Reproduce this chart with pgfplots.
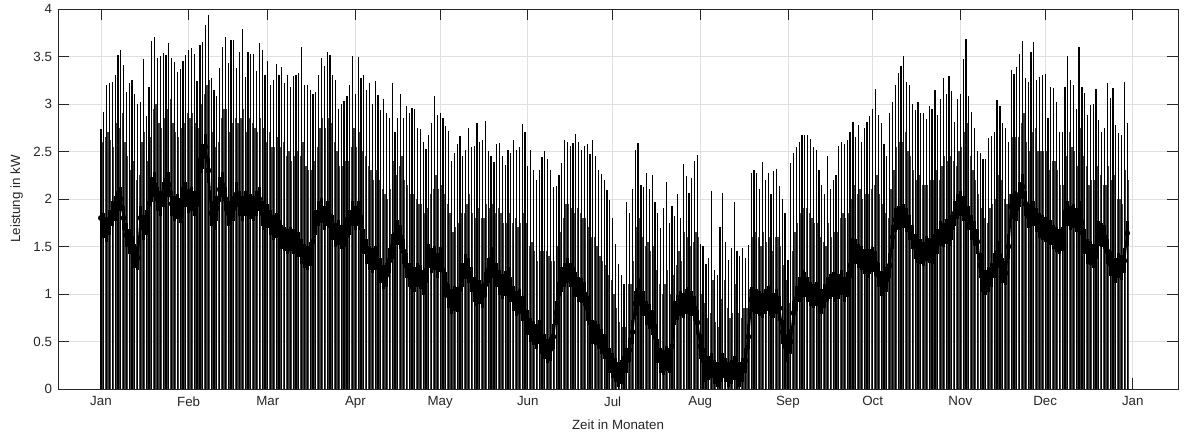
\documentclass[border=0pt]{standalone}
\usepackage{pgfplots}
\usepackage{pgfplotstable}
\pgfplotsset{compat=1.18}
\usepackage{fontspec}
\setmainfont{Liberation Sans}
\definecolor{axgray}{RGB}{38,38,38}
\definecolor{gridgray}{RGB}{223,223,223}

% day of year, daily peak, level of the dense band, second daily peak (kW)
\pgfplotstableread{
d pk md up
0 2.74 1.80 2.60
1 2.92 1.72 2.65
2 3.20 1.68 2.70
3 3.22 1.75 2.62
4 3.23 1.85 2.55
5 3.30 1.90 2.80
6 3.52 1.95 2.75
7 3.57 2.00 2.90
8 3.41 1.80 2.60
9 3.13 1.62 2.45
10 3.22 1.55 2.30
11 3.25 1.48 2.40
12 3.11 1.40 2.20
13 3.00 1.38 2.25
14 3.02 1.80 2.60
15 3.47 1.70 2.70
16 2.87 1.75 2.40
17 3.18 1.95 2.65
18 3.66 2.10 2.95
19 3.71 2.15 3.00
20 3.48 2.00 2.80
21 3.50 1.95 2.75
22 3.54 2.05 2.85
23 3.52 2.20 2.95
24 3.64 2.15 3.05
25 3.48 1.95 2.80
26 3.44 1.90 2.70
27 3.34 1.92 2.65
28 3.37 1.88 2.75
29 3.45 2.00 2.80
30 3.52 2.05 2.90
31 3.57 1.98 2.85
32 3.59 2.00 2.90
33 3.53 1.95 2.80
34 3.24 2.05 2.75
35 3.62 2.30 3.00
36 3.65 2.45 3.10
37 3.83 2.55 3.20
38 3.94 2.30 3.25
39 3.27 1.85 2.70
40 3.15 1.80 2.55
41 3.08 1.90 2.60
42 3.38 2.10 2.85
43 3.60 2.15 2.95
44 3.71 2.00 2.95
45 3.43 1.85 2.70
46 3.67 1.82 2.80
47 3.67 1.90 2.85
48 3.38 2.05 2.80
49 3.55 1.95 2.85
50 3.79 1.90 2.95
51 3.28 1.95 2.70
52 3.55 2.00 2.85
53 3.53 1.92 2.80
54 3.53 1.90 2.75
55 3.35 1.95 2.70
56 3.64 2.00 2.85
57 3.57 1.85 2.75
58 3.30 1.80 2.60
59 3.45 1.82 2.70
60 3.20 1.75 2.55
61 3.25 1.70 2.55
62 3.42 1.72 2.65
63 3.30 1.65 2.55
64 3.39 1.60 2.60
65 3.22 1.58 2.45
66 3.30 1.55 2.50
67 3.18 1.58 2.40
68 3.29 1.55 2.45
69 3.30 1.60 2.50
70 3.33 1.52 2.45
71 3.60 1.45 2.60
72 3.20 1.40 2.35
73 3.20 1.38 2.30
74 3.15 1.42 2.30
75 3.10 1.55 2.40
76 3.13 1.75 2.55
77 3.30 1.85 2.75
78 3.48 1.88 2.85
79 3.40 1.80 2.75
80 3.55 1.85 2.85
81 3.52 1.82 2.80
82 3.31 1.70 2.60
83 3.25 1.62 2.50
84 2.95 1.65 2.35
85 3.00 1.60 2.35
86 3.03 1.68 2.40
87 3.08 1.62 2.40
88 3.20 1.75 2.55
89 3.50 1.85 2.75
90 3.10 1.80 2.55
91 3.49 1.85 2.70
92 3.27 1.70 2.50
93 3.30 1.55 2.45
94 3.15 1.45 2.35
95 3.22 1.38 2.30
96 3.00 1.35 2.20
97 3.24 1.38 2.30
98 3.09 1.30 2.20
99 2.94 1.25 2.10
100 3.05 1.18 2.05
101 2.90 1.20 2.00
102 2.85 1.35 2.10
103 3.22 1.50 2.40
104 2.70 1.62 2.25
105 2.85 1.65 2.35
106 3.10 1.60 2.45
107 2.85 1.45 2.20
108 2.98 1.30 2.15
109 2.90 1.20 2.05
110 2.96 1.18 2.05
111 2.95 1.15 2.00
112 2.75 1.20 1.95
113 2.74 1.18 1.95
114 2.60 1.12 1.85
115 2.53 1.25 1.90
116 2.67 1.40 2.05
117 2.80 1.35 2.10
118 3.08 1.38 2.25
119 2.88 1.30 2.10
120 2.91 1.36 2.15
121 2.85 1.25 2.05
122 2.77 1.10 1.95
123 2.72 0.98 1.85
124 2.40 0.92 1.65
125 2.48 0.95 1.70
126 2.58 0.94 1.75
127 2.66 1.05 1.85
128 2.45 1.20 1.85
129 2.52 1.29 1.95
130 2.75 1.25 2.05
131 2.55 1.15 1.85
132 2.56 1.05 1.80
133 2.80 1.00 1.90
134 2.60 1.02 1.80
135 2.62 0.98 1.80
136 2.82 1.10 1.95
137 2.50 1.25 1.90
138 2.45 1.36 1.95
139 2.39 1.30 1.85
140 2.58 1.20 1.90
141 2.59 1.12 1.85
142 2.45 1.08 1.75
143 2.36 1.11 1.75
144 2.52 1.15 1.85
145 2.48 1.05 1.75
146 2.62 0.95 1.80
147 2.52 0.90 1.70
148 2.55 0.92 1.75
149 2.79 0.85 1.85
150 2.70 0.80 1.75
151 2.35 0.70 1.50
152 2.52 0.62 1.55
153 2.31 0.59 1.45
154 2.20 0.55 1.35
155 2.30 0.60 1.45
156 2.44 0.50 1.45
157 2.50 0.45 1.45
158 2.42 0.40 1.40
159 2.30 0.42 1.35
160 2.13 0.55 1.35
161 2.14 0.80 1.50
162 2.25 1.00 1.65
163 2.38 1.15 1.80
164 2.62 1.20 1.95
165 2.60 1.25 1.95
166 2.56 1.20 1.90
167 2.59 1.15 1.85
168 2.68 1.10 1.90
169 2.60 1.05 1.85
170 2.52 1.04 1.80
171 2.56 1.00 1.80
172 2.58 0.85 1.70
173 2.47 0.70 1.60
174 2.62 0.60 1.60
175 2.45 0.59 1.50
176 2.30 0.55 1.40
177 2.26 0.50 1.35
178 2.20 0.45 1.30
179 2.09 0.35 1.20
180 1.99 0.30 1.15
181 1.80 0.25 1.00
182 1.53 0.20 0.85
183 1.32 0.15 0.70
184 1.20 0.18 0.65
185 1.11 0.22 0.65
186 1.97 0.30 1.10
187 1.85 0.41 1.10
188 2.10 0.60 1.35
189 2.52 0.90 1.70
190 2.59 1.04 1.80
191 2.15 1.00 1.60
192 2.13 0.90 1.50
193 2.27 0.80 1.55
194 2.10 0.76 1.45
195 2.25 0.70 1.50
196 1.97 0.55 1.25
197 1.85 0.40 1.10
198 1.69 0.30 1.00
199 1.90 0.28 1.10
200 2.18 0.32 1.25
201 1.75 0.30 1.00
202 1.93 0.45 1.20
203 1.82 0.80 1.30
204 2.05 0.86 1.45
205 1.80 0.90 1.35
206 2.37 0.88 1.65
207 2.24 0.92 1.60
208 2.06 0.94 1.50
209 2.22 0.90 1.55
210 2.40 0.85 1.65
211 2.46 0.70 1.60
212 1.53 0.45 1.00
213 1.51 0.30 0.90
214 1.32 0.20 0.75
215 1.38 0.22 0.80
216 2.08 0.25 1.15
217 1.25 0.18 0.70
218 1.20 0.15 0.65
219 1.71 0.20 0.95
220 2.06 0.25 1.15
221 1.55 0.20 0.85
222 1.36 0.15 0.75
223 1.48 0.18 0.80
224 1.97 0.22 1.10
225 1.45 0.20 0.80
226 1.40 0.15 0.75
227 1.48 0.20 0.85
228 1.38 0.30 0.85
229 1.52 0.55 1.05
230 2.27 0.94 1.60
231 2.31 0.95 1.65
232 2.27 0.92 1.60
233 2.10 0.90 1.50
234 2.39 0.88 1.65
235 2.20 0.92 1.55
236 2.27 0.95 1.60
237 2.05 0.90 1.45
238 2.29 0.88 1.60
239 2.32 0.92 1.60
240 2.14 0.85 1.50
241 2.00 0.60 1.30
242 1.85 0.45 1.15
243 1.36 0.41 0.90
244 2.38 0.50 1.45
245 2.48 0.80 1.65
246 2.55 0.95 1.75
247 2.60 1.05 1.85
248 2.67 1.12 1.90
249 2.67 1.10 1.90
250 2.67 1.05 1.85
251 2.63 1.00 1.80
252 2.55 0.98 1.75
253 2.52 1.00 1.75
254 2.30 0.95 1.60
255 2.15 0.92 1.55
256 2.05 0.98 1.50
257 2.45 1.05 1.75
258 2.10 1.08 1.60
259 2.20 1.10 1.65
260 2.25 1.05 1.65
261 2.56 1.08 1.80
262 2.60 1.12 1.85
263 2.58 1.05 1.80
264 2.62 1.10 1.85
265 2.70 1.30 2.00
266 2.81 1.46 2.15
267 2.65 1.45 2.05
268 2.78 1.40 2.10
269 2.60 1.38 2.00
270 2.75 1.34 2.05
271 2.81 1.30 2.05
272 2.87 1.34 2.10
273 2.95 1.36 2.15
274 3.16 1.32 2.25
275 2.88 1.20 2.05
276 2.80 1.11 1.95
277 2.58 1.10 1.85
278 2.45 1.15 1.80
279 2.90 1.30 2.10
280 3.02 1.60 2.30
281 3.20 1.78 2.55
282 3.33 1.80 2.60
283 3.40 1.75 2.60
284 3.50 1.82 2.70
285 3.23 1.78 2.50
286 3.20 1.70 2.45
287 3.00 1.60 2.30
288 2.94 1.50 2.20
289 3.02 1.46 2.25
290 2.90 1.45 2.15
291 2.90 1.42 2.15
292 2.84 1.48 2.15
293 2.98 1.46 2.20
294 2.95 1.50 2.20
295 3.15 1.45 2.30
296 2.88 1.55 2.20
297 3.05 1.64 2.35
298 3.27 1.62 2.45
299 3.11 1.66 2.40
300 3.29 1.64 2.45
301 3.14 1.70 2.40
302 2.81 1.85 2.35
303 3.05 1.92 2.50
304 3.10 1.95 2.55
305 3.47 1.90 2.70
306 3.68 1.88 2.80
307 3.08 1.80 2.45
308 2.92 1.70 2.30
309 2.75 1.64 2.20
310 2.50 1.55 2.05
311 2.48 1.30 1.90
312 2.42 1.15 1.80
313 2.42 1.12 1.75
314 2.64 1.15 1.90
315 2.66 1.20 1.95
316 2.70 1.30 2.00
317 3.04 1.43 2.25
318 2.98 1.40 2.20
319 2.80 1.25 2.00
320 2.75 1.22 1.95
321 2.60 1.50 2.05
322 3.36 1.92 2.65
323 3.32 1.95 2.65
324 3.39 1.90 2.65
325 3.53 2.05 2.80
326 3.66 2.13 2.90
327 3.27 1.95 2.60
328 3.23 1.82 2.50
329 3.55 1.80 2.70
330 3.65 1.85 2.75
331 3.25 1.78 2.50
332 3.28 1.72 2.50
333 3.30 1.70 2.50
334 3.32 1.68 2.50
335 2.85 1.72 2.30
336 3.18 1.65 2.40
337 3.17 1.60 2.40
338 3.02 1.57 2.30
339 2.70 1.55 2.15
340 2.70 1.58 2.15
341 3.18 1.75 2.45
342 3.50 1.85 2.70
343 3.25 1.80 2.55
344 3.20 1.82 2.50
345 2.95 1.78 2.35
346 3.60 1.85 2.75
347 3.18 1.75 2.45
348 3.12 1.55 2.35
349 2.88 1.45 2.15
350 2.99 1.43 2.20
351 3.00 1.40 2.20
352 3.16 1.50 2.35
353 2.83 1.64 2.25
354 2.70 1.62 2.15
355 2.75 1.60 2.15
356 3.22 1.45 2.35
357 3.06 1.32 2.20
358 3.17 1.29 2.25
359 2.78 1.25 2.00
360 2.69 1.30 2.00
361 2.67 1.28 1.95
362 3.23 1.35 2.30
363 2.80 1.64 2.20
}\loaddata

\begin{document}
\begin{tikzpicture}
\begin{axis}[
    scale only axis,
    width=840pt, height=285pt,
    xmin=-15.2, xmax=381,
    ymin=0, ymax=4,
    xtick={0,31,59,90,120,151,181,212,243,273,304,334,365},
    xticklabels={Jan,Feb,Mar,Apr,May,Jun,Jul,Aug,Sep,Oct,Nov,Dec,Jan},
    ytick={0,0.5,1,1.5,2,2.5,3,3.5,4},
    /pgf/number format/assume math mode=true,
    ticklabel style={font=\fontsize{10}{12}\selectfont, text=axgray},
    tick align=inside,
    tick pos=both,
    major tick length=8pt,
    tick style={axgray, line width=0.5pt},
    axis line style={axgray, line width=0.5pt},
    grid=major,
    major grid style={gridgray, line width=0.5pt},
    xticklabel style={yshift=-2pt},
    yticklabel style={xshift=-1pt},
    xlabel={Zeit in Monaten},
    ylabel={Leistung in kW},
    label style={font=\fontsize{10}{12}\selectfont, text=axgray},
    xlabel style={at={(axis description cs:0.5,-0.0947)}, anchor=center},
    ylabel style={at={(axis description cs:-0.0369,0.5)}, anchor=center},
]
% daily peak
\addplot[ycomb, black, line width=0.9pt, mark=none] table[x=d, y=pk] {\loaddata};
% second peak of the day
\addplot[ycomb, black!75, line width=0.9pt, mark=none] table[x expr=\thisrow{d}+0.5, y=up] {\loaddata};
% dense base-load band
\addplot[only marks, mark=none,
    error bars/.cd, y dir=both, y fixed=0.13, error mark=none,
    error bar style={black, line width=2.2pt}] table[x=d, y=md] {\loaddata};
\addplot[black, line width=1.6pt, mark=none] table[x=d, y=md] {\loaddata};
\end{axis}
\pgfresetboundingbox
\path[use as bounding box] ([xshift=-43.5pt, yshift=-33.75pt]current axis.south west) rectangle ([xshift=4.5pt, yshift=6.75pt]current axis.north east);
\end{tikzpicture}
\end{document}
